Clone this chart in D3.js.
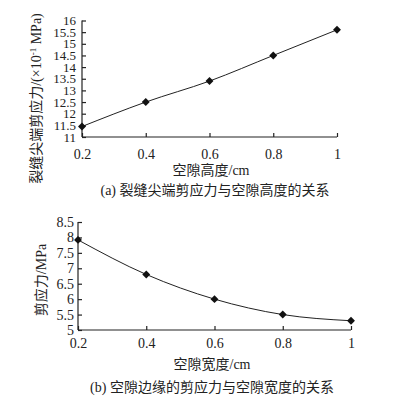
<!DOCTYPE html>
<html><head><meta charset="utf-8">
<script src="https://cdn.jsdelivr.net/npm/d3@7"></script>
<style>
body{margin:0;background:#fff;}
svg text{font-family:"Liberation Serif","Noto Sans CJK SC",serif;fill:#222;}
</style></head><body>
<svg id="c" width="396" height="405"></svg>
<script>
// Chart (a)
const xA = [0.2, 0.4, 0.6, 0.8, 1];
const yA = [11.45, 12.5, 13.4, 14.5, 15.6];
const yTicksA = [11, 11.5, 12, 12.5, 13, 13.5, 14, 14.5, 15, 15.5, 16];
// Chart (b)
const xB = [0.2, 0.4, 0.6, 0.8, 1];
const yB = [7.92, 6.8, 6.0, 5.5, 5.3];
const yTicksB = [5, 5.5, 6, 6.5, 7, 7.5, 8, 8.5];
const xTicks = [0.2, 0.4, 0.6, 0.8, 1];

const svg = d3.select("#c");
const fmt = d => String(d);

function panel(cfg){
  const g = svg.append("g");
  const x = d3.scaleLinear().domain([0.2,1]).range([cfg.x0, cfg.x1]);
  const y = d3.scaleLinear().domain(cfg.ydom).range([cfg.y0, cfg.y1]);
  const ax = g.append("g").attr("transform",`translate(0,${cfg.y0})`)
    .call(d3.axisBottom(x).tickValues(xTicks).tickFormat(fmt).tickSizeInner(-4).tickSizeOuter(0).tickPadding(cfg.xpad));
  const ay = g.append("g").attr("transform",`translate(${cfg.x0},0)`)
    .call(d3.axisLeft(y).tickValues(cfg.yticks).tickFormat(fmt).tickSizeInner(-4).tickSizeOuter(0).tickPadding(cfg.ypad));
  [ax, ay].forEach(a=>{
    a.selectAll("path,line").attr("stroke","#222").attr("stroke-width",1.2);
    a.selectAll("text").attr("font-size",14).attr("font-family",'"Liberation Serif",serif').attr("fill","#222");
  });
  ay.selectAll("text").attr("font-size",cfg.yfs);
  ax.select(".domain").attr("d",`M${cfg.x0},0H${cfg.x1}`);
  ay.select(".domain").attr("d",`M0,${cfg.y0}V${y(cfg.ydom[1])}`);
  const pts = cfg.xs.map((v,i)=>[v,cfg.ys[i]]);
  g.append("path").datum(pts)
    .attr("fill","none").attr("stroke","#222").attr("stroke-width",1)
    .attr("d", d3.line().x(d=>x(d[0])).y(d=>y(d[1])).curve(cfg.curve));
  g.selectAll(".m").data(pts).enter().append("path")
    .attr("d", d3.symbol().type(d3.symbolDiamond2).size(40))
    .attr("transform", d=>`translate(${x(d[0])},${y(d[1])})`)
    .attr("fill","#111");
  return {x,y,g};
}

const A = panel({x0:82,x1:337,y0:137,y1:20.5,ydom:[11,16],yticks:yTicksA,xs:xA,ys:yA,xpad:12,ypad:6,yfs:13,curve:d3.curveMonotoneX});
const B = panel({x0:78,x1:351,y0:330,y1:222,ydom:[5,8.5],yticks:yTicksB,xs:xB,ys:yB,xpad:8,ypad:4,yfs:14,curve:d3.curveMonotoneX});

// Titles (a)
const tA = svg.append("text").attr("transform","translate(41,98.5) rotate(-90)")
  .attr("text-anchor","middle").attr("font-size",14);
tA.append("tspan").text("裂缝尖端剪应力/(×10");
tA.append("tspan").attr("font-size",9).attr("dy",-5).text("-1");
tA.append("tspan").attr("dy",5).text(" MPa)");
svg.append("text").attr("x",211).attr("y",175).attr("text-anchor","middle").attr("font-size",14).text("空隙高度/cm");
svg.append("text").attr("x",215).attr("y",195).attr("text-anchor","middle").attr("font-size",14).text("(a) 裂缝尖端剪应力与空隙高度的关系");

// Titles (b)
svg.append("text").attr("transform","translate(46,280) rotate(-90)")
  .attr("text-anchor","middle").attr("font-size",14).text("剪应力/MPa");
svg.append("text").attr("x",212).attr("y",369).attr("text-anchor","middle").attr("font-size",14).text("空隙宽度/cm");
svg.append("text").attr("x",212).attr("y",392).attr("text-anchor","middle").attr("font-size",14).text("(b) 空隙边缘的剪应力与空隙宽度的关系");
</script>
</body></html>
